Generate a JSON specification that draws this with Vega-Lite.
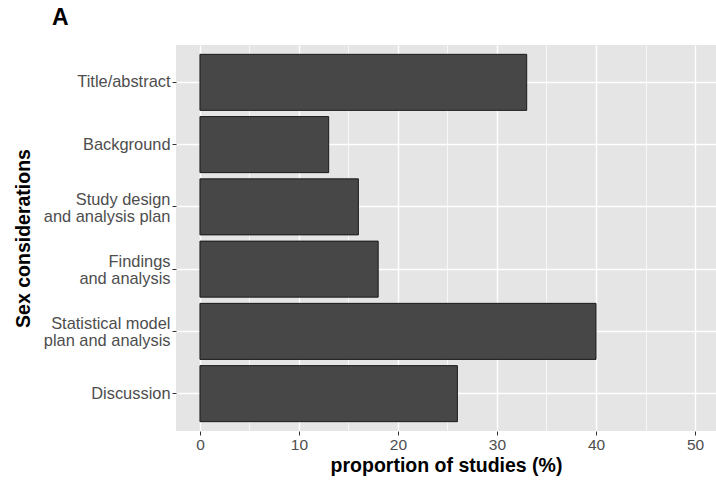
{
  "$schema": "https://vega.github.io/schema/vega-lite/v6.json",
  "width": 540,
  "height": 386,
  "autosize": {"type": "none"},
  "padding": {"left": 176, "top": 45, "right": 0, "bottom": 53},
  "background": "white",
  "title": {
    "text": "A",
    "anchor": "start",
    "frame": "group",
    "dx": -124,
    "dy": 23,
    "offset": 20,
    "baseline": "alphabetic",
    "font": "Liberation Sans",
    "fontSize": 23,
    "fontWeight": "bold",
    "color": "black"
  },
  "data": {
    "values": [
      {"section": "Title/abstract", "pct": 33},
      {"section": "Background", "pct": 13},
      {"section": "Study design\nand analysis plan", "pct": 16},
      {"section": "Findings\nand analysis", "pct": 18},
      {"section": "Statistical model\nplan and analysis", "pct": 40},
      {"section": "Discussion", "pct": 26}
    ]
  },
  "mark": {"type": "bar", "fill": "#474747", "stroke": "#1a1a1a", "strokeWidth": 1},
  "encoding": {
    "y": {
      "field": "section",
      "type": "nominal",
      "sort": null,
      "scale": {"paddingInner": 0.1, "paddingOuter": 0.15},
      "axis": {
        "title": "Sex considerations",
        "labelExpr": "split(datum.label, '\\n')",
        "labelFont": "Liberation Sans",
        "labelFontSize": 16.4,
        "labelColor": "#4d4d4d",
        "labelLineHeight": 17,
        "labelOffset": {"condition": {"test": "indexof(datum.value, '\\n') >= 0", "value": -7}, "value": 0},
        "labelPadding": 2,
        "tickSize": 4,
        "tickColor": "#333333",
        "domain": false,
        "grid": true,
        "gridColor": "white",
        "gridWidth": 1.4,
        "titleFont": "Liberation Sans",
        "titleFontSize": 19.5,
        "titleFontWeight": "bold",
        "titleColor": "black",
        "titlePadding": 10
      }
    },
    "x": {
      "field": "pct",
      "type": "quantitative",
      "scale": {"domain": [-2.42, 52.12], "nice": false, "zero": false},
      "axis": {
        "title": "proportion of studies (%)",
        "values": [0, 5, 10, 15, 20, 25, 30, 35, 40, 45, 50],
        "labelExpr": "datum.value % 10 === 0 ? datum.label : ''",
        "labelFont": "Liberation Sans",
        "labelFontSize": 15.5,
        "labelColor": "#4d4d4d",
        "labelPadding": 2,
        "tickSize": 4,
        "tickColor": "#333333",
        "tickOpacity": {"condition": {"test": "datum.value % 10 === 0", "value": 1}, "value": 0},
        "domain": false,
        "grid": true,
        "gridColor": "white",
        "gridWidth": {"condition": {"test": "datum.value % 10 === 0", "value": 1.4}, "value": 0.7},
        "titleFont": "Liberation Sans",
        "titleFontSize": 19.5,
        "titleFontWeight": "bold",
        "titleColor": "black",
        "titlePadding": 4
      }
    }
  },
  "config": {
    "view": {"fill": "#e5e5e5", "stroke": null}
  }
}
